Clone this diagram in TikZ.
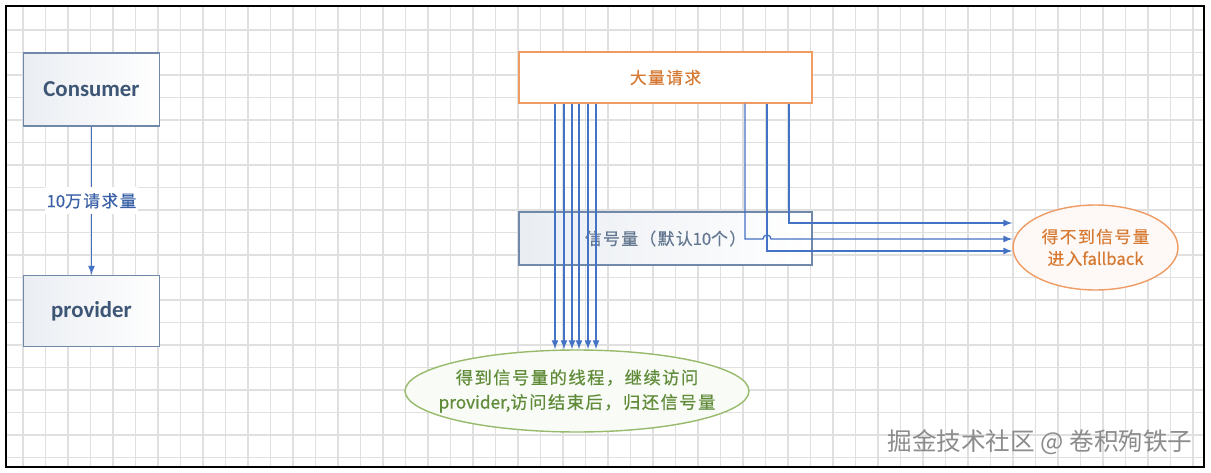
\documentclass[tikz,border=0pt]{standalone}
\usepackage{fontspec}
\setmainfont{Carlito}
\newfontfamily\cjk[LetterSpace=9, FakeBold=0.6]{Noto Sans CJK SC}
\newfontfamily\cjkl[FakeBold=0.6]{Noto Sans CJK SC}
\newfontfamily\wmfont{Noto Sans CJK SC}
\usetikzlibrary{arrows}
\usetikzlibrary{shapes.geometric, math}
\definecolor{myblue}{RGB}{68,114,196}
\definecolor{myframe}{RGB}{112,136,170}
\definecolor{mytext}{RGB}{62,86,118}
\definecolor{myorange}{RGB}{238,155,100}
\definecolor{myorangetext}{RGB}{214,122,52}
\definecolor{mygreen}{RGB}{152,186,108}
\definecolor{mygreentext}{RGB}{96,140,58}
\definecolor{mygrid}{RGB}{224,224,224}

\begin{document}
\begin{tikzpicture}[x=0.02cm, y=-0.02cm,
  gridline/.style={mygrid, line width=0.6pt},
  arr/.style={-latex, myblue, line width=0.75pt},
  box/.style={draw=myframe, line width=0.8pt, left color=myframe!15, right color=white, inner sep=0pt},
  cjklbl/.style={font=\cjk\fontsize{9.5}{13}\selectfont}]
\tikzmath{
\W=1211;
\H=473;
\gs=22.5;
}

\useasboundingbox (0,0) rectangle (\W,\H);
\fill[white] (0,0) rectangle (\W,\H);
\foreach \i in {1,...,53} {\draw[gridline] (0.5+\gs*\i,6) -- (0.5+\gs*\i,467);}
\foreach \i in {1,...,20} {\draw[gridline] (6,7.5+\gs*\i) -- (1204,7.5+\gs*\i);}
\draw[line width=1.2pt] (6,6) rectangle (1204,467);

% left part
\node[box, minimum width=2.72cm, minimum height=1.46cm, text=mytext, font=\bfseries\fontsize{13}{15}\selectfont] (con) at (91.5,89.5) {Consumer};
\node[box, minimum width=2.72cm, minimum height=1.42cm, text=mytext, font=\bfseries\fontsize{13}{15}\selectfont] (pro) at (91.5,311) {provider};
\draw[arr] (con) -- node[fill=white, cjklbl, text=myblue!85!black, inner xsep=1pt]{{\cjkl 10}万请求量} (pro);

% right part
\node[draw=myorange, line width=0.8pt, fill=white, minimum width=5.86cm, minimum height=1.02cm, cjklbl, text=myorangetext] (req) at (665.5,77.5) {大量请求};
\node[box, minimum width=5.86cm, minimum height=1.06cm, cjklbl, text=mytext!80] (sem) at (665.5,238.5) {信号量（默认{\cjkl 10}个）};
\node[ellipse, draw=mygreen, line width=0.8pt, fill=mygreen!6, minimum width=6.88cm, minimum height=1.64cm, inner sep=0pt] (thr) at (577,391) {};
\node[align=center, text=mygreentext, font=\cjk\fontsize{9.8}{14}\selectfont] (thrtxt) at (thr) {得到信号量的线程，继续访问\\{\cjkl provider,}访问结束后，归还信号量};
\node[ellipse, draw=myorange, line width=0.8pt, fill=myorange!6, minimum width=3.3cm, minimum height=1.7cm, inner sep=0pt] (fb) at (1095.5,247.5) {};
\node[align=center, text=myorangetext, font=\cjk\fontsize{9.5}{12.5}\selectfont] (fbtxt) at (fb) {得不到信号量\\进入{\cjkl fallback}};

\foreach \x [count=\i] in {555,564,572,579,588,596} {
  \coordinate (a\i) at (\x,0);
  \draw[arr] (req.south -| a\i) -- (thr.north -| a\i);
}

\coordinate (b1) at (789,223);
\coordinate (b2) at (745,239);
\coordinate (b3) at (767,251);
\coordinate (hop) at (763,239);
\draw[arr] (req.south -| b1) |- (fb.west |- b1);
\draw[arr] (req.south -| b2) |- (hop) arc (180:360:4) -- (fb.west |- b2);
\draw[arr] (req.south -| b3) |- (fb.west |- b3);

\node[text=black!45, font=\wmfont\fontsize{14}{16}\selectfont] (wm) at (1040,442) {掘金技术社区 @ 卷积殉铁子};
\end{tikzpicture}
\end{document}
